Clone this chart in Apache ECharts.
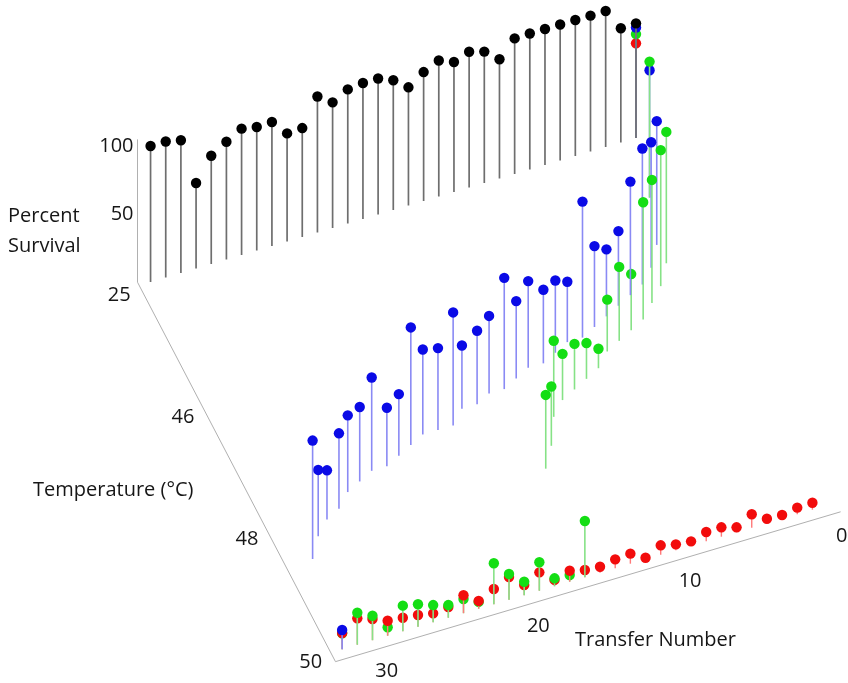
<!DOCTYPE html>
<html>
<head>
<meta charset="utf-8">
<script src="https://cdn.jsdelivr.net/npm/echarts@6/dist/echarts.min.js"></script>
<style>
  html, body { margin: 0; padding: 0; background: #ffffff; }
  #chart { width: 848px; height: 683px; }
</style>
</head>
<body>
<div id="chart"></div>
<script>
// ---- data -------------------------------------------------------------
const transfers = [0, 1, 2, 3, 4, 5, 6, 7, 8, 9, 10, 11, 12, 13, 14, 15, 16,
  17, 18, 19, 20, 21, 22, 23, 24, 25, 26, 27, 28, 29, 30, 31, 32];

// control population kept at 25 °C
const controlTemp = transfers.map(() => 25);
const controlSurvival = [84.3, 84.0, 100, 99.9, 100, 100, 100, 100, 99.7, 87.7,
  96.6, 99.8, 95.6, 100, 94.8, 86.9, 95.4, 100, 100, 98.6, 92.4, 100, 80.1,
  79.5, 91.2, 90.8, 92.9, 86.6, 79.6, 62.9, 97.6, 100, 100];

// blue line: gradual temperature ramp
const blueTemp = [25, 44.9, 45.6, 45.9, 46.1, 46.2, 46.3, 46.4, 46.5, 46.6, 46.6,
  46.7, 46.8, 46.8, 46.9, 47.0, 47.0, 47.1, 47.1, 47.3, 47.3, 47.3, 47.4, 47.5,
  47.6, 47.6, 47.7, 47.8, 48.0, 48.1, 48.3, 48.6, 50];
const blueSurvival = [81.2, 93.6, 91.0, 92.3, 100, 83.5, 54.9, 49.3, 59.5, 100,
  44.4, 53.1, 54.1, 63.8, 56.9, 81.8, 57.1, 54.0, 46.5, 83.1, 60.2, 62.5, 86.5,
  45.3, 43.1, 68.6, 54.7, 56.4, 55.5, 36.1, 48.7, 87.1, 14.1];

// green line: faster ramp, then held at 50 °C
const greenTemp = [25, 44.9, 45.9, 46.2, 46.4, 46.6, 46.7, 46.8, 46.9, 47.1, 47.2,
  47.3, 47.4, 47.6, 48.0, 48.3, 50, 50, 50, 50, 50, 50, 50, 50, 50, 50, 50, 50,
  50, 50, 50, 50, 50];
const greenSurvival = [76.4, 100, 96.6, 100, 90.4, 86.3, 41.3, 54.4, 38.1, 14.3,
  26.3, 33.5, 34.0, 55.9, 43.6, 54.2, 41.3, 4.9, 5.8, 20.9, 9.9, 18.9, 30.1,
  5.0, 10.4, 9.3, 12.6, 16.5, 18.8, 6.2, 18.0, 23.5, 11.7];

// red line: straight to 50 °C
const redTemp = [25, 50, 50, 50, 50, 50, 50, 50, 50, 50, 50, 50, 50, 50, 50, 50,
  50, 50, 50, 50, 50, 50, 50, 50, 50, 50, 50, 50, 50, 50, 50, 50, 50];
const redSurvival = [69.6, 5.1, 4.8, 2.7, 3.3, 9.9, 3.6, 6.9, 6.8, 3.2, 4.3, 6.9,
  1.1, 7.4, 6.5, 4.4, 5.3, 8.1, 4.6, 13.5, 7.5, 16.7, 11.2, 5.7, 13.2, 7.9, 6.5,
  8.6, 9.9, 11.0, 15.6, 19.4, 11.9];

const transferTicks = [0, 10, 20, 30];
const temperatureTicks = [25, 46, 48, 50];
const survivalTicks = [50, 100];

// ---- 3D view ----------------------------------------------------------
// The temperature axis is broken: 25 °C is drawn at the 44 °C position.
function tempAxisPos(T) { return T === 25 ? 44 : T; }

// Orthographic view: screen offsets of one unit along each 3D axis.
const VIEW = {
  ox: 636, oy: 138,          // transfer 0, 44 °C slot, 0 %
  tx: -15.17, ty: 4.5,       // per transfer
  ux: 31.93, uy: 61.2,       // per degree
  sy: -1.36                  // per percent
};
// plot box in axis units
const BOX = { t: [-0.65, 32.65], u: [43.9, 50.1], s: [-2.5, 102.5] };

function projectAxis(t, u, s) {
  const v = u - 44;
  return [VIEW.ox + VIEW.tx * t + VIEW.ux * v,
          VIEW.oy + VIEW.ty * t + VIEW.uy * v + VIEW.sy * s];
}
function project(t, T, s) { return projectAxis(t, tempAxisPos(T), s); }
// distance toward the viewer, used for painter ordering
function depth(t, T, s) { return 3.92 * t + 53.3 * (tempAxisPos(T) - 44) + 1.56 * s; }

const FONT = '20px "Open Sans", "DejaVu Sans", sans-serif';
const TEXT_COLOR = '#161616';

function stemSeries(name, temps, survival, dotColor, stemColor, stemWidth) {
  return {
    type: 'custom',
    name: name,
    coordinateSystem: 'cartesian2d',
    silent: true,
    animation: false,
    data: transfers.map((t, i) => [t, temps[i], survival[i]]),
    renderItem: function (params, api) {
      const t = api.value(0), T = api.value(1), s = api.value(2);
      const top = api.coord(project(t, T, s));
      const base = api.coord(project(t, T, 0));
      const d = depth(t, T, s) * 2 + 1000;
      return {
        type: 'group',
        children: [
          { type: 'line', z2: d,
            shape: { x1: base[0], y1: base[1], x2: top[0], y2: top[1] },
            style: { stroke: stemColor, lineWidth: stemWidth } },
          { type: 'circle', z2: d + 1,
            shape: { cx: top[0], cy: top[1], r: 5.2 },
            style: { fill: dotColor } }
        ]
      };
    }
  };
}

// axis edges of the box
const axisSeries = {
  type: 'custom',
  coordinateSystem: 'cartesian2d',
  silent: true,
  animation: false,
  data: [[0]],
  renderItem: function (params, api) {
    const tMax = BOX.t[1], tMin = BOX.t[0];
    const uMin = BOX.u[0], uMax = BOX.u[1];
    const sMin = BOX.s[0], sMax = BOX.s[1];
    const pts = [
      projectAxis(tMax, uMin, sMax),
      projectAxis(tMax, uMin, sMin),
      projectAxis(tMax, uMax, sMin),
      projectAxis(tMin, uMax, sMin)
    ].map(p => api.coord(p));
    return {
      type: 'polyline', z2: 0,
      shape: { points: pts },
      style: { stroke: '#b0b0b0', lineWidth: 1, fill: null }
    };
  }
};

// tick labels for the three axes
const tickData = []
  .concat(transferTicks.map(v => ['t', v]))
  .concat(temperatureTicks.map(v => ['u', v]))
  .concat(survivalTicks.map(v => ['s', v]));

const tickSeries = {
  type: 'custom',
  coordinateSystem: 'cartesian2d',
  silent: true,
  animation: false,
  dimensions: ['axis', 'value'],
  data: tickData,
  renderItem: function (params, api) {
    const item = tickData[params.dataIndex];
    const axis = item[0], val = item[1];
    let p, dx, dy, align;
    if (axis === 't') {
      p = projectAxis(val, BOX.u[1], BOX.s[0]); dx = 11; dy = 21.5; align = 'center';
    } else if (axis === 'u') {
      p = projectAxis(BOX.t[1], tempAxisPos(val), BOX.s[0]); dx = -21.5; dy = 6.5; align = 'center';
    } else {
      p = projectAxis(BOX.t[1], BOX.u[0], val); dx = -4; dy = 3.5; align = 'right';
    }
    const c = api.coord(p);
    return {
      type: 'text', z2: 0,
      x: c[0] + dx, y: c[1] + dy,
      style: { text: String(val), font: FONT, fill: TEXT_COLOR,
               align: align, verticalAlign: 'middle' }
    };
  }
};

const chart = echarts.init(document.getElementById('chart'), null, { renderer: 'canvas' });
chart.setOption({
  backgroundColor: '#ffffff',
  animation: false,
  grid: { left: 0, right: 0, top: 0, bottom: 0, containLabel: false },
  xAxis: { type: 'value', min: 0, max: 848, show: false },
  yAxis: { type: 'value', min: 0, max: 683, inverse: true, show: false },
  graphic: [
    { type: 'text', left: 8, top: 201,
      style: { text: 'Percent\nSurvival', font: FONT, fill: TEXT_COLOR, lineHeight: 30 } },
    { type: 'text', left: 33, top: 480,
      style: { text: 'Temperature (°C)', font: FONT, fill: TEXT_COLOR } },
    { type: 'text', left: 575, top: 630,
      style: { text: 'Transfer Number', font: FONT, fill: TEXT_COLOR } }
  ],
  series: [
    axisSeries,
    tickSeries,
    stemSeries('25 °C control', controlTemp, controlSurvival, '#000000', '#6e6e6e', 1.7),
    stemSeries('Ramp line', blueTemp, blueSurvival, '#0a0ae6', '#8a8af4', 1.6),
    stemSeries('Fast line', greenTemp, greenSurvival, '#14de14', '#86e286', 1.6),
    stemSeries('50 °C line', redTemp, redSurvival, '#f20c0c', '#ff7a7a', 1.4)
  ]
});
</script>
</body>
</html>
